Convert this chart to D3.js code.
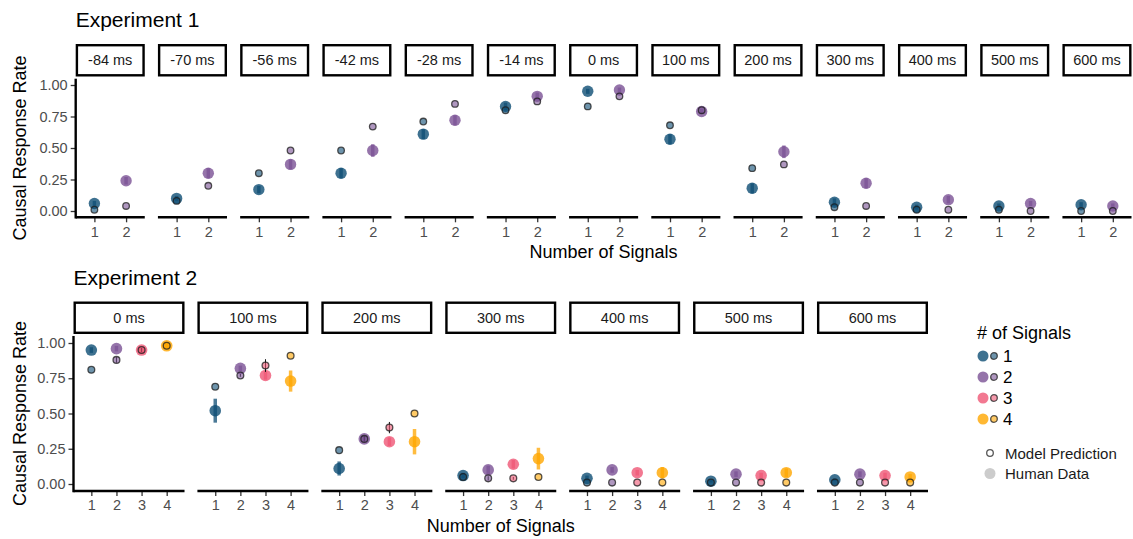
<!DOCTYPE html>
<html>
<head>
<meta charset="utf-8">
<script src="https://cdn.jsdelivr.net/npm/d3@7"></script>
<style>
  body { margin: 0; background: #fff; }
  svg { font-family: "Liberation Sans", Arial, sans-serif; }
</style>
</head>
<body>
<svg id="chart" width="1133" height="539"></svg>
<script>
// Experiment 1 data
const exp1Delays = ["-84 ms", "-70 ms", "-56 ms", "-42 ms", "-28 ms", "-14 ms", "0 ms",
                    "100 ms", "200 ms", "300 ms", "400 ms", "500 ms", "600 ms"];
const exp1Human1 = [0.06, 0.10, 0.17, 0.30, 0.61, 0.83, 0.95, 0.57, 0.18, 0.07, 0.03, 0.04, 0.05];
const exp1Human2 = [0.24, 0.30, 0.37, 0.48, 0.72, 0.91, 0.96, 0.79, 0.47, 0.22, 0.09, 0.06, 0.04];
const exp1Err1   = [0.02, 0.02, 0.03, 0.04, 0.04, 0.03, 0.02, 0.04, 0.04, 0.03, 0.02, 0.02, 0.02];
const exp1Err2   = [0.03, 0.04, 0.04, 0.05, 0.04, 0.03, 0.02, 0.02, 0.05, 0.04, 0.03, 0.02, 0.02];
const exp1Model1 = [0.01, 0.08, 0.30, 0.48, 0.71, 0.80, 0.83, 0.68, 0.34, 0.03, 0.01, 0.01, 0.00];
const exp1Model2 = [0.04, 0.20, 0.48, 0.67, 0.85, 0.87, 0.91, 0.80, 0.37, 0.04, 0.01, 0.00, 0.00];

// Experiment 2 data
const exp2Delays = ["0 ms", "100 ms", "200 ms", "300 ms", "400 ms", "500 ms", "600 ms"];
const exp2Human1 = [0.95, 0.52, 0.11, 0.06, 0.04, 0.02, 0.03];
const exp2Human2 = [0.96, 0.82, 0.32, 0.10, 0.10, 0.07, 0.07];
const exp2Human3 = [0.95, 0.77, 0.30, 0.14, 0.08, 0.06, 0.06];
const exp2Human4 = [0.98, 0.73, 0.30, 0.18, 0.08, 0.08, 0.05];
const exp2Err1   = [0.02, 0.085, 0.05, 0.02, 0.02, 0.01, 0.01];
const exp2Err2   = [0.02, 0.02, 0.02, 0.03, 0.02, 0.02, 0.02];
const exp2Err3   = [0.02, 0.03, 0.03, 0.03, 0.02, 0.02, 0.02];
const exp2Err4   = [0.02, 0.075, 0.09, 0.077, 0.04, 0.03, 0.02];
const exp2Model1 = [0.81, 0.69, 0.24, 0.05, 0.01, 0.01, 0.01];
const exp2Model2 = [0.88, 0.77, 0.32, 0.04, 0.01, 0.01, 0.01];
const exp2Model3 = [0.95, 0.84, 0.40, 0.04, 0.01, 0.01, 0.01];
const exp2Model4 = [0.98, 0.91, 0.50, 0.05, 0.01, 0.01, 0.01];
const exp2ModelErr = [[0, 0.02, 0.015, 0], [0, 0.01, 0.045, 0], [0, 0.02, 0.04, 0], [0, 0.015, 0.01, 0],
                      [0, 0, 0, 0], [0, 0, 0, 0], [0, 0, 0, 0]];

const yTicks = [0, 0.25, 0.5, 0.75, 1];
const signalColors = ["#0e4d74", "#7a5195", "#ef5675", "#ffa600"];
const signalLabels = ["1", "2", "3", "4"];

const svg = d3.select("#chart");
const color = d3.scaleOrdinal().domain(signalLabels).range(signalColors);

function buildRows(delays, humans, errs, models, modelErr) {
    let rows = [];
    delays.forEach((d, i) => {
        humans.forEach((h, k) => {
            rows.push({
                delay: d, n: String(k + 1),
                human: h[i], err: errs[k][i],
                model: models[k][i], merr: modelErr ? modelErr[i][k] : 0
            });
        });
    });
    return rows;
}

const exp1Rows = buildRows(exp1Delays, [exp1Human1, exp1Human2], [exp1Err1, exp1Err2],
                           [exp1Model1, exp1Model2], null);
const exp2Rows = buildRows(exp2Delays, [exp2Human1, exp2Human2, exp2Human3, exp2Human4],
                           [exp2Err1, exp2Err2, exp2Err3, exp2Err4],
                           [exp2Model1, exp2Model2, exp2Model3, exp2Model4], exp2ModelErr);

function facetRow(opts) {
    let g = svg.append("g");

    let panel = d3.scaleBand()
        .domain(opts.delays)
        .range(opts.xRange)
        .paddingInner(opts.gap)
        .paddingOuter(0);

    let x = d3.scalePoint()
        .domain(opts.levels)
        .range([0, panel.bandwidth()])
        .padding(opts.pad);

    let y = d3.scaleLinear().domain([0, 1]).range(opts.yRange);
    let top = y(1.05), bottom = y(-0.05);

    // title
    g.append("text")
        .attr("x", opts.xRange[0])
        .attr("y", opts.titleY)
        .attr("font-size", 21)
        .attr("fill", "#000")
        .text(opts.title);

    // y axis on the first panel only
    let yAxis = g.append("g")
        .attr("transform", `translate(${opts.xRange[0]},0)`)
        .call(d3.axisLeft(y).tickValues(yTicks).tickFormat(d3.format(".2f")).tickSize(5).tickPadding(3));
    yAxis.select(".domain").remove();
    yAxis.selectAll(".tick line").attr("stroke", "#333").attr("stroke-width", 1.3);
    yAxis.selectAll(".tick text").attr("fill", "#4d4d4d").attr("font-size", 14.5)
        .attr("font-family", "Liberation Sans, Arial, sans-serif");
    g.append("line")
        .attr("x1", opts.xRange[0]).attr("x2", opts.xRange[0])
        .attr("y1", top).attr("y2", bottom + 1.2)
        .attr("stroke", "#000").attr("stroke-width", 2.4);

    g.append("text")
        .attr("transform", `translate(${opts.yTitleX},${(top + bottom) / 2}) rotate(-90)`)
        .attr("text-anchor", "middle")
        .attr("font-size", 18)
        .text("Causal Response Rate");

    opts.delays.forEach(delay => {
        let px = panel(delay);
        let p = g.append("g").attr("transform", `translate(${px},0)`);

        // strip
        p.append("rect")
            .attr("x", 1.2).attr("y", opts.stripY[0] + 1.2)
            .attr("width", panel.bandwidth() - 2.4)
            .attr("height", opts.stripY[1] - opts.stripY[0] - 2.4)
            .attr("fill", "#fff").attr("stroke", "#000").attr("stroke-width", 2.4);
        p.append("text")
            .attr("x", panel.bandwidth() / 2)
            .attr("y", (opts.stripY[0] + opts.stripY[1]) / 2 + 5)
            .attr("text-anchor", "middle")
            .attr("font-size", 14.5)
            .attr("fill", "#1a1a1a")
            .text(delay);

        // x axis
        let xAxis = p.append("g")
            .attr("transform", `translate(0,${bottom})`)
            .call(d3.axisBottom(x).tickSize(5).tickPadding(4));
        xAxis.select(".domain").remove();
        xAxis.selectAll(".tick line").attr("stroke", "#333").attr("stroke-width", 1.3);
        xAxis.selectAll(".tick text").attr("fill", "#4d4d4d").attr("font-size", 14.5)
            .attr("font-family", "Liberation Sans, Arial, sans-serif");
        p.append("line")
            .attr("x1", 0).attr("x2", panel.bandwidth())
            .attr("y1", bottom).attr("y2", bottom)
            .attr("stroke", "#000").attr("stroke-width", 2.4);

        let rows = opts.rows.filter(r => r.delay === delay);

        // human data: error bars + big dots
        p.selectAll(".herr").data(rows).enter().append("line")
            .attr("x1", d => x(d.n)).attr("x2", d => x(d.n))
            .attr("y1", d => y(d.human - d.err)).attr("y2", d => y(d.human + d.err))
            .attr("stroke", d => color(d.n)).attr("stroke-width", 3.5).attr("opacity", 0.75);
        p.selectAll(".hdot").data(rows).enter().append("circle")
            .attr("cx", d => x(d.n)).attr("cy", d => y(d.human))
            .attr("r", opts.bigR)
            .attr("fill", d => color(d.n)).attr("fill-opacity", 0.8);

        // model predictions: small outlined dots
        p.selectAll(".merr").data(rows.filter(d => d.merr > 0)).enter().append("line")
            .attr("x1", d => x(d.n)).attr("x2", d => x(d.n))
            .attr("y1", d => y(d.model - d.merr)).attr("y2", d => y(d.model + d.merr))
            .attr("stroke", "#111").attr("stroke-width", 1);
        p.selectAll(".mdot").data(rows).enter().append("circle")
            .attr("cx", d => x(d.n)).attr("cy", d => y(d.model))
            .attr("r", opts.smallR)
            .attr("fill", d => color(d.n)).attr("fill-opacity", 0.6)
            .attr("stroke", "#1a1a1a").attr("stroke-opacity", 0.75).attr("stroke-width", 1.3);
    });

    g.append("text")
        .attr("x", (opts.xRange[0] + opts.xRange[1]) / 2)
        .attr("y", opts.xTitleY)
        .attr("text-anchor", "middle")
        .attr("font-size", 18)
        .text("Number of Signals");
}

facetRow({
    title: "Experiment 1", titleY: 27,
    delays: exp1Delays, levels: ["1", "2"], rows: exp1Rows,
    xRange: [75.7, 1131.5], gap: 0.16, pad: 0.59,
    yRange: [211, 85], stripY: [44, 76.5],
    yTitleX: 26, xTitleY: 258, bigR: 5.7, smallR: 3.3
});

facetRow({
    title: "Experiment 2", titleY: 285,
    delays: exp2Delays, levels: signalLabels, rows: exp2Rows,
    xRange: [73.5, 928], gap: 0.104, pad: 0.71,
    yRange: [484, 343], stripY: [301.5, 334],
    yTitleX: 26, xTitleY: 532, bigR: 5.8, smallR: 3.4
});

// legend
const legend = svg.append("g").attr("transform", "translate(977,0)");
legend.append("text").attr("x", 0).attr("y", 339).attr("font-size", 18).text("# of Signals");
const keys = legend.selectAll(".key").data(signalLabels).enter().append("g")
    .attr("transform", (d, i) => `translate(0,${356 + i * 21})`);
keys.append("circle").attr("cx", 6).attr("cy", 0).attr("r", 5.5)
    .attr("fill", d => color(d)).attr("fill-opacity", 0.8);
keys.append("circle").attr("cx", 17).attr("cy", 0).attr("r", 3.3)
    .attr("fill", d => color(d)).attr("fill-opacity", 0.6)
    .attr("stroke", "#1a1a1a").attr("stroke-opacity", 0.75).attr("stroke-width", 1.3);
keys.append("text").attr("x", 26).attr("y", 6).attr("font-size", 17).text(d => d);

legend.append("circle").attr("cx", 13).attr("cy", 453).attr("r", 3.3)
    .attr("fill", "#fff").attr("stroke", "#555").attr("stroke-width", 1.3);
legend.append("text").attr("x", 28).attr("y", 458.5).attr("font-size", 15).attr("fill", "#1a1a1a").text("Model Prediction");
legend.append("circle").attr("cx", 13).attr("cy", 473.5).attr("r", 5.5).attr("fill", "#ccc");
legend.append("text").attr("x", 28).attr("y", 479).attr("font-size", 15).attr("fill", "#1a1a1a").text("Human Data");
</script>
</body>
</html>
